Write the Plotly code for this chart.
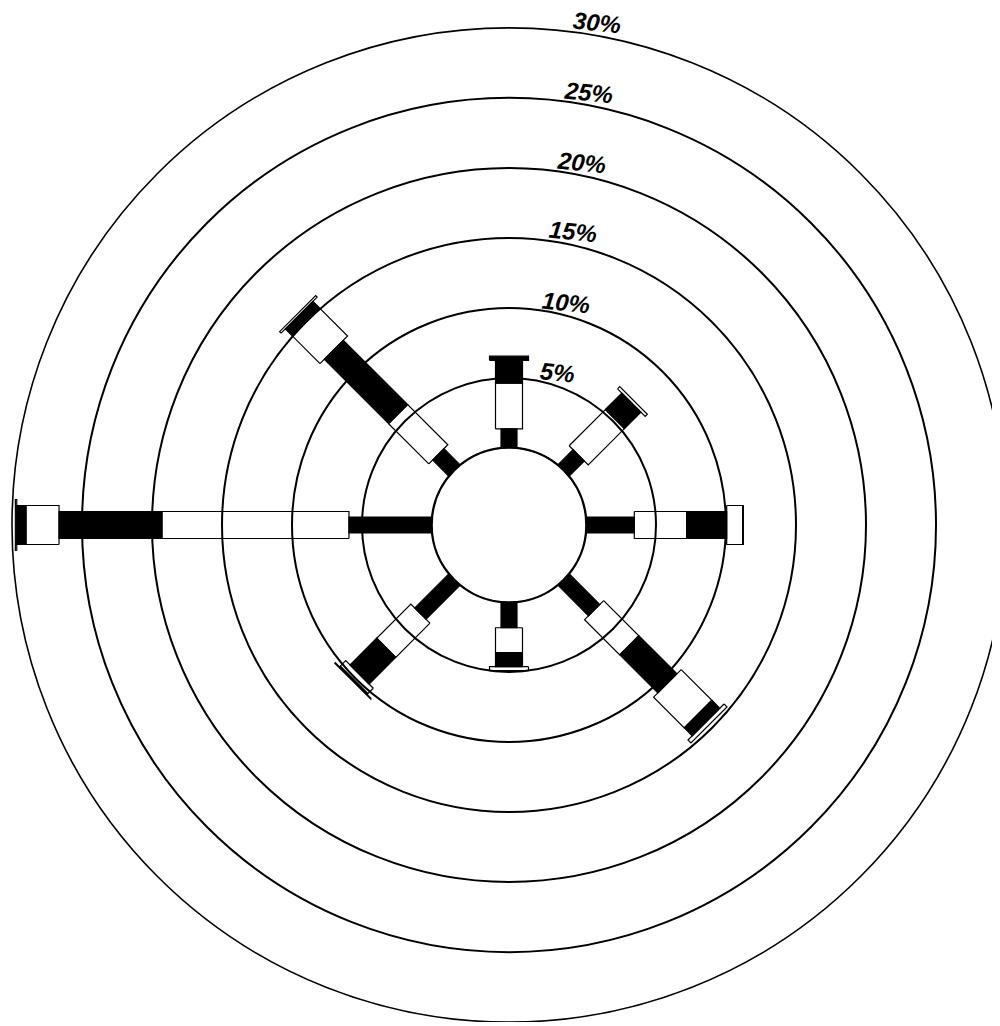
import numpy as np
import plotly.graph_objects as go

# ---------------- data (percent of time per speed class and direction) -------------
directions = ["N", "NE", "E", "SE", "S", "SW", "W", "NW"]
direction_deg = [0, 45, 90, 135, 180, 225, 270, 315]
speed_classes = ["Class 1", "Class 2", "Class 3", "Class 4", "Class 5", "Class 6"]
class1 = [1.36, 1.54, 3.45, 3.10, 1.84, 3.45, 5.93, 1.64]
class2 = [3.28, 3.66, 3.74, 3.55, 1.78, 3.45, 13.36, 4.06]
class3 = [1.62, 1.66, 2.86, 3.85, 1.00, 2.70, 7.35, 6.50]
class4 = [0.08, 0.22, 1.14, 3.10, 0.28, 0.55, 2.36, 2.80]
class5 = [0.22, 0.00, 0.05, 0.80, 0.00, 0.08, 0.66, 0.70]
class6 = [0.00, 0.00, 0.00, 0.30, 0.00, 0.05, 0.10, 0.15]
ring_values = [5, 10, 15, 20, 25, 30]
ring_labels = ["5%", "10%", "15%", "20%", "25%", "30%"]

# ---------------- styling / geometry ----------------
# the page body adds an 8px margin; the rose is slightly cut at the right edge
W, H = 998, 1014
ML, MR, MT, MB = 4, 0, 20, 0
R_OUT = (W - ML - MR) / 2.0
HOLE_PX = 77.0
R_MAX = 30
SCALE = (R_OUT - HOLE_PX) / R_MAX
CX = ML + (W - ML - MR) / 2.0
CY = MT + (H - MT - MB) / 2.0
class_width_px = [16, 27, 27, 39, 39, 51]
class_fill = ["black", "rgba(255,255,255,0)", "black",
              "rgba(255,255,255,0)", "black", "rgba(255,255,255,0)"]

classes = [class1, class2, class3, class4, class5, class6]


def to_polar(theta0, p, off):
    rho = np.hypot(p, off)
    return (rho - HOLE_PX) / SCALE, theta0 + np.degrees(np.arctan2(off, p))


fig = go.Figure()
cum = np.zeros(len(directions))
for k, vals in enumerate(classes):
    h = class_width_px[k] / 2.0
    rr, tt = [], []
    for j, th0 in enumerate(direction_deg):
        v = vals[j]
        if v <= 0:
            continue
        c0, c1 = cum[j], cum[j] + v
        p0 = HOLE_PX + c0 * SCALE
        p1 = HOLE_PX + c1 * SCALE
        for p, o in [(p0, -h), (p1, -h), (p1, h), (p0, h), (p0, -h)]:
            r_, t_ = to_polar(th0, p, o)
            rr.append(r_)
            tt.append(t_)
        rr.append(None)
        tt.append(None)
    cum = cum + np.array(vals)
    fig.add_trace(go.Scatterpolar(
        r=rr, theta=tt, mode="lines", fill="toself",
        fillcolor=class_fill[k], line=dict(color="black", width=1.2),
        name=speed_classes[k], cliponaxis=False, hoverinfo="skip",
        showlegend=False))

# inner (calm) circle
circ_theta = np.linspace(0, 360, 721)
fig.add_trace(go.Scatterpolar(
    r=np.zeros_like(circ_theta), theta=circ_theta, mode="lines",
    line=dict(color="black", width=3), cliponaxis=False,
    hoverinfo="skip", showlegend=False))

annotations = []
for v, lab in zip(ring_values, ring_labels):
    r_ring = HOLE_PX + v * SCALE
    r_lab = r_ring + 13
    dx = 31 + 0.111 * r_lab
    dy = np.sqrt(r_lab ** 2 - dx ** 2)
    px, py = CX + dx, CY - dy
    annotations.append(dict(
        x=(px - ML) / (W - ML - MR), y=1 - (py - MT) / (H - MT - MB),
        xref="paper", yref="paper", text=lab, showarrow=False,
        xanchor="center", yanchor="middle", textangle=6,
        font=dict(family="Arial, Liberation Sans, sans-serif", size=24,
                  color="black", weight="bold", style="italic")))

fig.update_layout(
    width=W, height=H,
    margin=dict(l=ML, r=MR, t=MT, b=MB, pad=0),
    paper_bgcolor="white",
    showlegend=False,
    annotations=annotations,
    polar=dict(
        domain=dict(x=[0, 1], y=[0, 1]),
        hole=HOLE_PX / R_OUT,
        bgcolor="white",
        radialaxis=dict(range=[0, R_MAX], tickvals=ring_values,
                        showticklabels=False, ticks="", showline=False,
                        gridcolor="black", gridwidth=1.6),
        angularaxis=dict(rotation=90, direction="clockwise",
                         showticklabels=False, ticks="", showgrid=False,
                         showline=True, linecolor="black", linewidth=1.6),
    ),
)

fig.write_html("out.html")
